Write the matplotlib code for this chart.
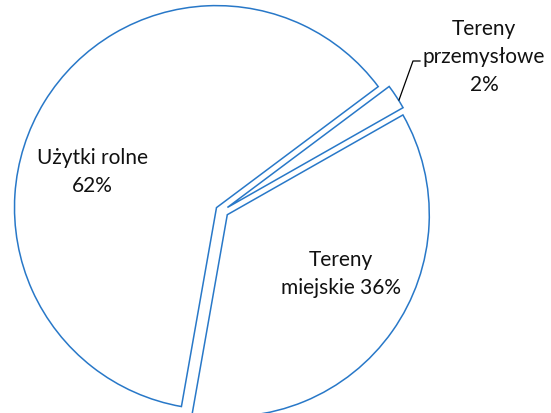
import matplotlib.pyplot as plt

labels = ['Użytki rolne\n62%', 'Tereny\nprzemysłowe\n2%', 'Tereny\nmiejskie 36%']
values = [62, 2, 36]
explode = [0.032, 0.032, 0.032]

edge = '#2878C8'

fig = plt.figure(figsize=(5.51, 4.14), dpi=100)
ax = fig.add_axes([0, 0, 1, 1])

wedges, _ = ax.pie(values, explode=explode, startangle=-100, counterclock=False,
                   radius=1.0,
                   wedgeprops=dict(facecolor='white', edgecolor=edge, linewidth=1.1))

# pixel frame: pie centre at (222, 212), radius 202 px
ax.set_xlim(-222 / 202, (551 - 222) / 202)
ax.set_ylim(-(414 - 212) / 202, 212 / 202)
ax.set_aspect('auto')
ax.axis('off')

font = dict(family='Lato', size=15, color='#111111', ha='center', va='center',
            linespacing=1.5)

def px(x, y):
    return ((x - 222) / 202, (212 - y) / 202)

ax.text(*px(92, 172), labels[0], **font)
ax.text(*px(341, 274), labels[2], **font)
ax.text(*px(484, 57), labels[1], **font)

# leader line for the small slice
lx, ly = zip(px(420, 62), px(413, 62), px(399, 101))
ax.plot(lx, ly, color='black', linewidth=0.9)

fig.savefig('out.png', dpi=100, facecolor='white')
